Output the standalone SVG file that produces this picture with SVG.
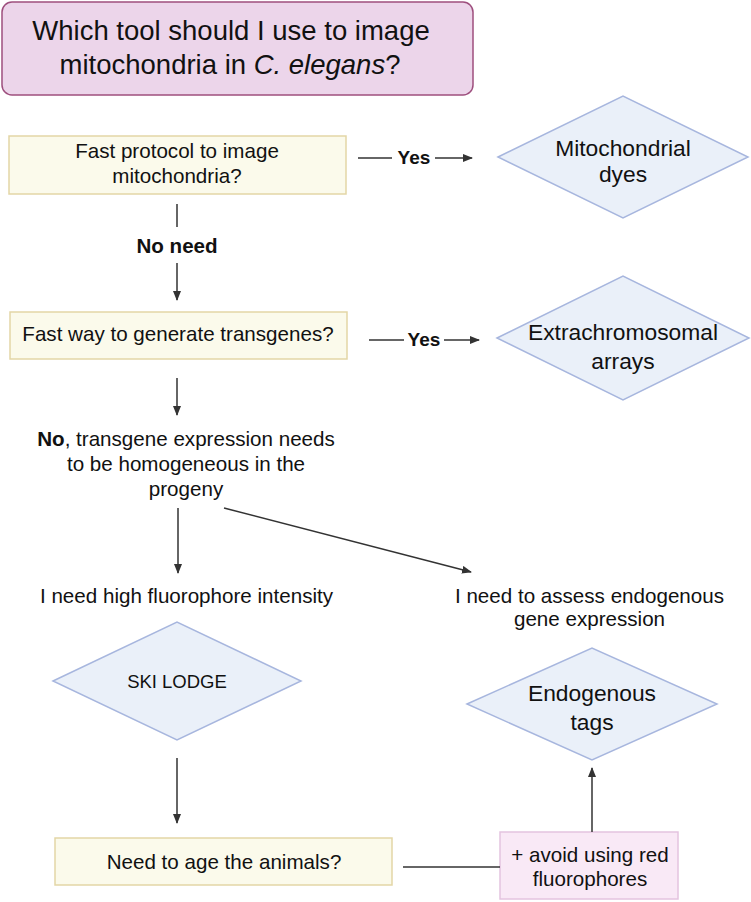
<svg xmlns="http://www.w3.org/2000/svg" width="751" height="902" viewBox="0 0 751 902">
<defs>
<marker id="ah" markerWidth="10" markerHeight="8" refX="9" refY="4" orient="auto" markerUnits="userSpaceOnUse">
<path d="M0,0 L10,4 L0,8 Z" fill="#333"/>
</marker>
<style>
text{font-family:"Liberation Sans",Arial,sans-serif;fill:#111;text-anchor:middle}
.t{font-size:20.6px}
.d{font-size:22.8px}
.b{font-weight:bold}
.ybox{fill:#fbfaeb;stroke:#e3d6a6;stroke-width:1.5}
.dia{fill:#eaf0f9;stroke:#a7b6de;stroke-width:1.5}
.pbox{fill:#f9e9f6;stroke:#e4c3df;stroke-width:1.5}
.c{stroke:#333;stroke-width:1.5;fill:none}
.ca{stroke:#333;stroke-width:1.5;fill:none;marker-end:url(#ah)}
</style>
</defs>
<rect width="751" height="902" fill="#fff"/>

<g id="title">
<rect x="2" y="2" width="471" height="93" rx="10" fill="#ecd5ea" stroke="#9e4f7e" stroke-width="1.5"/>
<text x="231" y="40" font-size="27.5">Which tool should I use to image</text>
<text x="230" y="74" font-size="27.5">mitochondria in <tspan font-style="italic">C. elegans</tspan>?</text>
</g>

<g id="q1">
<rect class="ybox" x="9" y="136" width="337" height="58"/>
<text class="t" x="177" y="158">Fast protocol to image</text>
<text class="t" x="177" y="183">mitochondria?</text>
</g>

<g id="dyes">
<polygon class="dia" points="498,157 623,96 748,157 623,218"/>
<text class="d" x="623" y="156">Mitochondrial</text>
<text class="d" x="623" y="182">dyes</text>
</g>

<g id="q2">
<rect class="ybox" x="10" y="312" width="337" height="47"/>
<text class="t" x="178" y="341">Fast way to generate transgenes?</text>
</g>

<g id="arrays">
<polygon class="dia" points="497,338 623,276 749,338 623,400"/>
<text class="d" x="623" y="340">Extrachromosomal</text>
<text class="d" x="623" y="369">arrays</text>
</g>

<g id="homog">
<text class="t" x="186" y="446"><tspan class="b">No</tspan>, transgene expression needs</text>
<text class="t" x="186" y="471">to be homogeneous in the</text>
<text class="t" x="186" y="496">progeny</text>
</g>

<g id="intensity">
<text class="t" x="186.5" y="603">I need high fluorophore intensity</text>
</g>

<g id="endog">
<text class="t" x="589.5" y="603">I need to assess endogenous</text>
<text class="t" x="589.5" y="626">gene expression</text>
</g>

<g id="ski">
<polygon class="dia" points="53,681 177,622 301,681 177,740"/>
<text x="177" y="688" font-size="18.5">SKI LODGE</text>
</g>

<g id="tags">
<polygon class="dia" points="467,704 592,648 717,704 592,760"/>
<text class="d" x="592" y="701">Endogenous</text>
<text class="d" x="592" y="730">tags</text>
</g>

<g id="age">
<rect class="ybox" x="55" y="838" width="337" height="47"/>
<text class="t" x="224" y="869">Need to age the animals?</text>
</g>

<g id="red">
<rect class="pbox" x="500" y="832" width="178" height="67"/>
<text class="t" x="590" y="862">+ avoid using red</text>
<text class="t" x="590" y="886">fluorophores</text>
</g>

<g id="connectors">
<line class="c" x1="358" y1="158" x2="392" y2="158"/>
<text class="b" x="414" y="164" font-size="19">Yes</text>
<line class="ca" x1="435" y1="158" x2="472" y2="158"/>

<line class="c" x1="369" y1="340" x2="404" y2="340"/>
<text class="b" x="424" y="346" font-size="19">Yes</text>
<line class="ca" x1="444" y1="340" x2="479" y2="340"/>

<line class="c" x1="177" y1="204" x2="177" y2="227"/>
<text class="b t" x="177" y="253">No need</text>
<line class="ca" x1="177" y1="263" x2="177" y2="300"/>

<line class="ca" x1="177" y1="378" x2="177" y2="415"/>

<line class="ca" x1="178" y1="508" x2="178" y2="573"/>
<line class="ca" x1="224" y1="508" x2="471" y2="572"/>

<line class="ca" x1="177" y1="758" x2="177" y2="823"/>

<line class="c" x1="403" y1="867" x2="500" y2="867"/>
<line class="ca" x1="592" y1="832" x2="592" y2="768"/>
</g>
</svg>
